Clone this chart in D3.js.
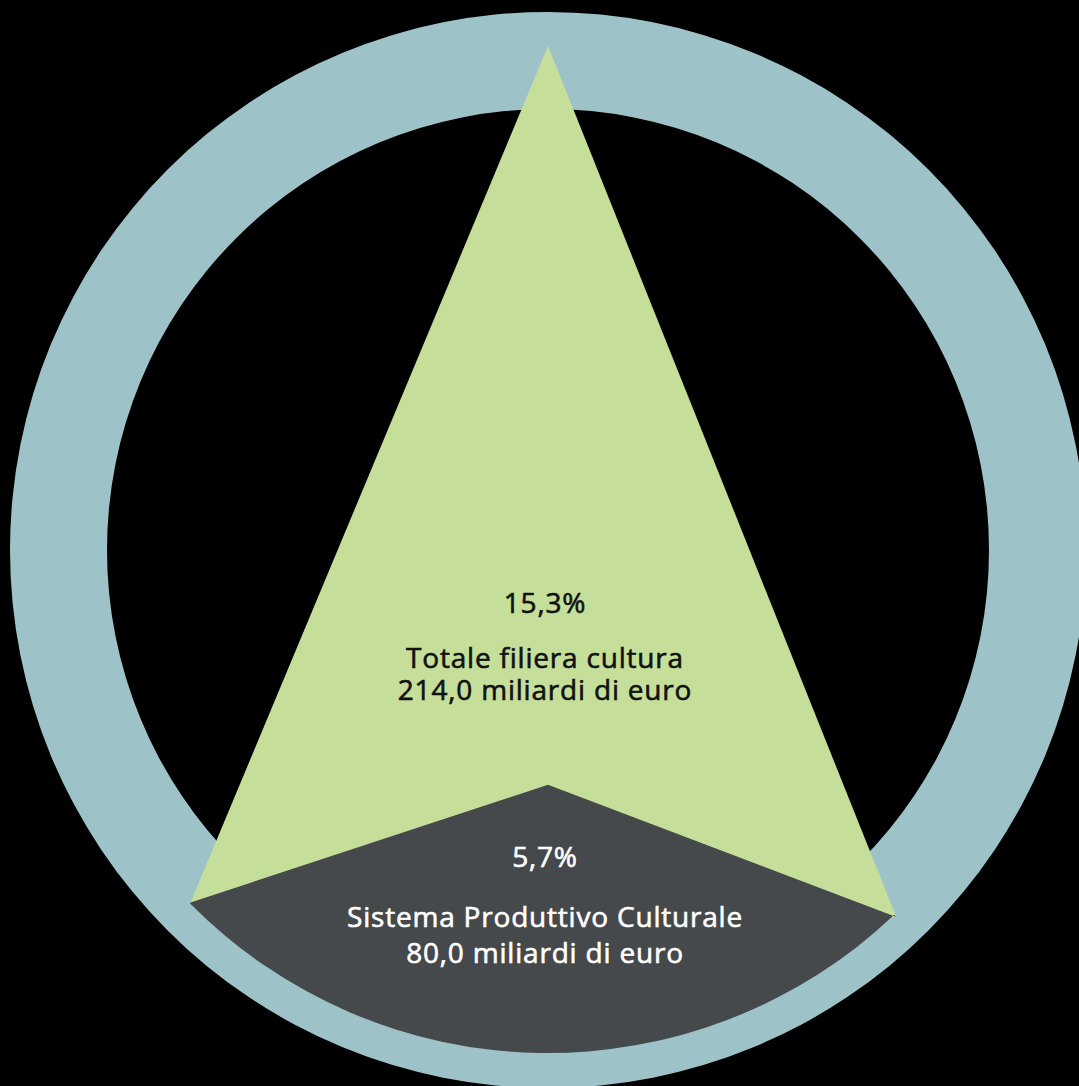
<!DOCTYPE html>
<html>
<head>
<meta charset="utf-8">
<script src="https://cdn.jsdelivr.net/npm/d3@7"></script>
<style>
  html, body { margin: 0; padding: 0; background: #000; }
  svg { display: block; }
  text { font-family: "Open Sans", "Noto Sans", sans-serif; font-weight: 500; }
</style>
</head>
<body>
<script>
// Quote del valore aggiunto sul totale dell'economia
const categories = ["Totale filiera cultura", "Sistema Produttivo Culturale"];
const shares = [15.3, 5.7];          // percentuale
const amounts = [214.0, 80.0];       // miliardi di euro

const W = 1079, H = 1086;
const cx = 548, cy = 550;
const colors = { ring: "#9dc3c8", total: "#c5df9b", core: "#45494b" };

const it = d3.formatLocale({ decimal: ",", thousands: ".", grouping: [3], currency: ["€", ""] });
const fmt1 = it.format(".1f");

const svg = d3.select("body").append("svg")
  .attr("width", W).attr("height", H);

svg.append("rect").attr("width", W).attr("height", H).attr("fill", "#000");

const g = svg.append("g").attr("transform", `translate(${cx},${cy})`);

// Anello esterno
const ring = d3.arc().innerRadius(441).outerRadius(538).startAngle(0).endAngle(2 * Math.PI);
g.append("path").attr("d", ring()).attr("fill", colors.ring);

// Punto in coordinate polari (angolo in gradi, 0 in alto, senso orario)
const polar = (deg, r) => {
  const a = deg * Math.PI / 180;
  return [r * Math.sin(a), -r * Math.cos(a)];
};

// Triangolo: totale filiera
const apex = polar(0, 504);
const left = polar(225.4, 502);
const right = polar(136.5, 506);
g.append("path")
  .attr("d", d3.line()([apex, right, left]) + "Z")
  .attr("fill", colors.total);

// Settore di base: sistema produttivo culturale
const peak = [0, 234.7];
const R = 503;
const p = d3.path();
p.moveTo(left[0], left[1]);
p.lineTo(peak[0], peak[1]);
p.lineTo(right[0], right[1]);
// arco inferiore da destra a sinistra passando per il basso
const a0 = Math.atan2(right[1], right[0]);
const a1 = Math.atan2(left[1], left[0]);
p.arc(0, 0, R, a0, a1, false);
p.closePath();
g.append("path").attr("d", p.toString()).attr("fill", colors.core);

// Etichette
const blocks = [
  { y: 613, lines: [668, 700], fill: "#111" },
  { y: 867, lines: [927, 963], fill: "#fff" }
];
const tx = -3;
categories.forEach((c, i) => {
  const b = blocks[i];
  const t = g.append("g").attr("fill", b.fill).attr("stroke", b.fill)
    .attr("stroke-width", 0.6).attr("font-size", 28)
    .attr("letter-spacing", 0.8).attr("text-anchor", "middle");
  t.append("text").attr("x", tx).attr("y", b.y - cy).text(fmt1(shares[i]) + "%");
  t.append("text").attr("x", tx).attr("y", b.lines[0] - cy).text(c);
  t.append("text").attr("x", tx).attr("y", b.lines[1] - cy).text(fmt1(amounts[i]) + " miliardi di euro");
});
</script>
</body>
</html>
